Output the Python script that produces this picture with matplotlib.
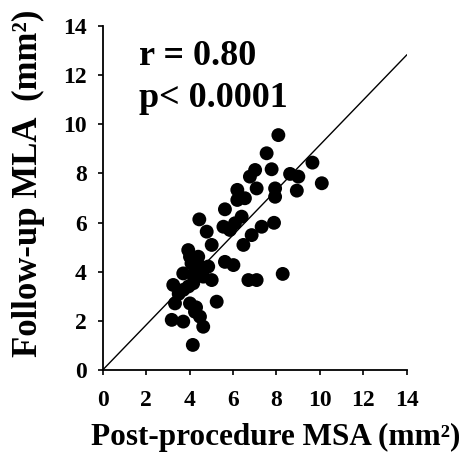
import numpy as np
import matplotlib.pyplot as plt

plt.rcParams['font.family'] = ['Liberation Serif', 'DejaVu Serif']
plt.rcParams['font.weight'] = 'bold'

# post-procedure MSA (x) vs follow-up MLA (y), mm2
msa = [8.09, 7.55, 9.66, 10.09, 7.02, 7.78, 6.78, 8.63, 9.01, 7.09,
       7.94, 7.94, 8.94, 6.20, 6.55, 6.20, 5.63, 6.40, 6.09, 5.56,
       5.86, 4.45, 4.79, 7.89, 7.32, 6.86, 6.48, 5.02, 3.94, 4.40,
       5.63, 6.02, 4.86, 4.09, 3.71, 4.17, 4.63, 5.02, 3.25, 3.71,
       4.17, 6.71, 7.09, 8.29, 3.33, 4.02, 5.25, 4.25, 3.18, 3.71,
       4.48, 4.63, 4.15, 4.02, 4.48, 3.50, 3.95, 4.30]
mla = [9.56, 8.82, 8.44, 7.60, 8.14, 8.17, 7.87, 7.98, 7.87, 7.39,
       7.39, 7.05, 7.30, 7.33, 6.99, 6.92, 6.54, 6.24, 5.97, 5.83,
       5.70, 6.13, 5.63, 5.99, 5.83, 5.49, 5.09, 5.09, 4.88, 4.61,
       4.40, 4.27, 4.21, 4.34, 3.93, 3.87, 3.80, 3.66, 3.46, 3.26,
       3.53, 3.66, 3.66, 3.91, 2.71, 2.71, 2.78, 2.37, 2.04, 1.97,
       2.17, 1.76, 1.02, 4.61, 4.21, 3.10, 3.40, 2.55]

# fitted line end points
line_x = [0, 14]
line_y = [0, 12.82]

ticks = [0, 2, 4, 6, 8, 10, 12, 14]

fig = plt.figure(figsize=(4.64, 4.57), dpi=100)
ax = fig.add_axes([0.2213, 0.1904, 0.6552, 0.7527])

ax.plot(line_x, line_y, color='black', lw=1.0)
ax.scatter(msa, mla, s=100, color='black', edgecolors='none', zorder=3)

ax.set_xlim(0, 14)
ax.set_ylim(0, 14)
ax.set_xticks(ticks)
ax.set_yticks(ticks)
ax.tick_params(axis='x', direction='out', length=3.5, width=1.2, pad=11, labelsize=17)
ax.tick_params(axis='y', direction='out', length=3.5, width=1.2, pad=8, labelsize=17)
for s in ['top', 'right']:
    ax.spines[s].set_visible(False)
for s in ['left', 'bottom']:
    ax.spines[s].set_linewidth(1.3)

fig.text(276 / 464, 1 - 445 / 457, 'Post-procedure MSA (mm²)', fontsize=22.5,
         fontweight='bold', ha='center', va='baseline')
fig.text(45 / 464, 1 - 183.5 / 457, 'Follow-up MLA  (mm²)', fontsize=25,
         fontweight='bold', rotation=90, ha='right', va='center')

ax.text(1.69, 12.41, 'r = 0.80', fontsize=26, fontweight='bold', va='baseline')
ax.text(1.69, 10.72, 'p< 0.0001', fontsize=26, fontweight='bold', va='baseline')

fig.savefig('out.png', dpi=100)
